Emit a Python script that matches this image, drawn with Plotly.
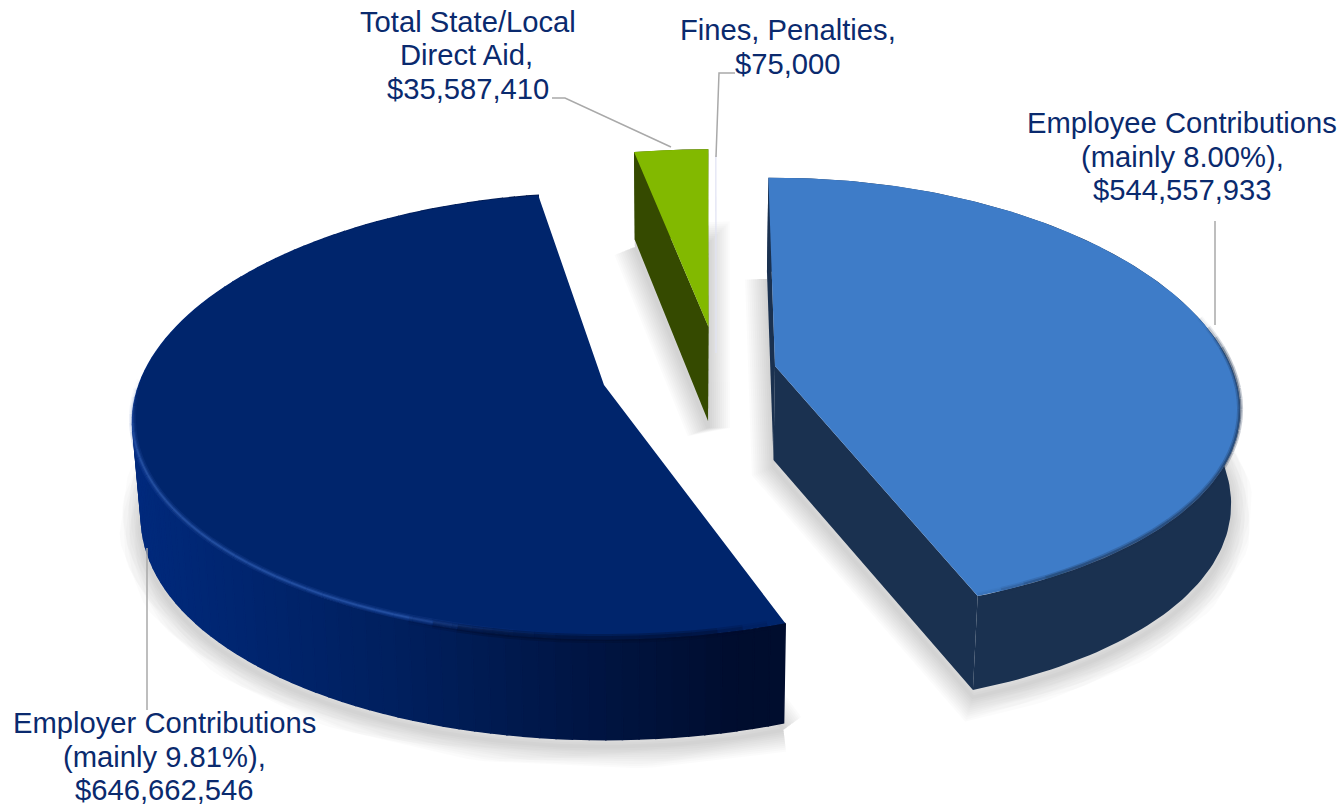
import numpy as np
import plotly.graph_objects as go

# ---------- data ----------
categories = ["Employee Contributions", "Employer Contributions",
              "Total State/Local Direct Aid", "Fines, Penalties"]
values = [544557933, 646662546, 35587410, 75000]
label_lines = [["Employee Contributions", "(mainly 8.00%),", "$544,557,933"],
               ["Employer Contributions", "(mainly 9.81%),", "$646,662,546"],
               ["Total State/Local", "Direct Aid,", "$35,587,410"],
               ["Fines, Penalties,", "$75,000"]]

# ---------- styling / layout ----------
W, H = 1342, 805
A, B, K = 465.0, 219.0, 0.14       # projection of the pie disc
DEPTH = 94.0                       # thickness
dk = [0.0, 0.06, 0.07, 0.07]
SHRINK, SHRINK_CX = 0.016, 680.0   # lower face converges toward this x
apex = [(775, 366), (604, 385), (708.5, 327), (716, 353)]   # exploded apex of each slice
scale = [0.98, 1.0, 0.925, 1.03]
rot = [-1.0, 1.0, 0.0, 0.0]
kx = [0.2, 0.165, 0.05, 0.14]
top_col = ["#3e7cc8", "#00256c", "#82b900", "#dfe2f4"]
side_col = ["#1a3150", None, "#354a00", "#dfe2f4"]
text_col = "#0a2a6e"
leader_col = "#a9a9a9"
label_pos = [[(1182, 123), (1182, 157), (1182, 190)],
             [(164, 723), (164, 757), (164, 790)],
             [(468, 22), (466, 55), (468, 89)],
             [(788, 30), (788, 64)]]
leaders = ["M1215,221 L1215,325", "M147,548 L147,710",
           "M552,98 L565,98 L671,147", "M735,73 L719,73 L716,157"]

fractions = np.array(values, float) / np.sum(values)
edges = np.concatenate([[0], np.cumsum(fractions) * 360])


def top_pt(i, deg):
    t = np.radians(deg + rot[i])
    u, v = np.sin(t), np.cos(t)
    return (apex[i][0] + scale[i] * A * u / (1 + kx[i] * v),
            apex[i][1] - scale[i] * B * v / (1 + K * v))


def bot_pt(i, deg):
    x, y = top_pt(i, deg)
    v = np.cos(np.radians(deg + rot[i]))
    return x + SHRINK * (SHRINK_CX - x), y + DEPTH / (1 + dk[i] * v)


def apex_bot(i):
    x, y = apex[i]
    return x + SHRINK * (SHRINK_CX - x), y + DEPTH


def poly(xs, ys, fill, line=None, lw=0):
    return go.Scatter(x=list(xs) + [xs[0]], y=list(ys) + [ys[0]], mode="lines", fill="toself",
                      fillcolor=fill, line=dict(color=line or fill, width=lw),
                      hoverinfo="skip", showlegend=False)


def arc(i, a0, a1, n, f):
    ts = np.linspace(a0, a1, n)
    return zip(*[f(i, t) for t in ts])


def lerp(c0, c1, f):
    f = min(max(f, 0), 1)
    return "rgb(%d,%d,%d)" % tuple(c0[j] + (c1[j] - c0[j]) * f for j in range(3))


def faded_arc(fig, i, a0, a1, rgb, peak, widths, dy=0.0, pieces=40, fade=0.2):
    """Bevel along the rim: short overlapping arcs whose alpha fades at both ends."""
    ts = np.linspace(a0, a1, pieces + 1)
    for n in range(pieces):
        f = (n + 0.5) / pieces
        env = min(1.0, min(f, 1 - f) / fade)
        x, y = arc(i, ts[n], ts[n + 1], 6, top_pt)
        for w, al in widths:
            fig.add_trace(go.Scatter(x=list(x), y=[v + dy for v in y], mode="lines",
                                     line=dict(color="rgba(%d,%d,%d,%.3f)" % (*rgb, peak * al * env), width=w),
                                     hoverinfo="skip", showlegend=False))


fig = go.Figure()

# soft shadows beneath the three slices with area (strokes only, so they fade outward)
for i in range(3):
    a0, a1 = edges[i], edges[i + 1]
    bx, by = arc(i, a0, a1, 120, bot_pt)
    ax_, ay_ = apex_bot(i)
    xs = list(bx) + [ax_, bx[0]]
    ys = [y + 7 for y in list(by) + [ay_, by[0]]]
    for w in range(44, 0, -4):
        fig.add_trace(go.Scatter(x=xs, y=ys, mode="lines",
                                 line=dict(color="rgba(0,0,0,0.014)", width=w),
                                 hoverinfo="skip", showlegend=False))

# side walls and top faces
for i in range(4):
    a0, a1 = edges[i], edges[i + 1]
    if i == 3:
        tx, ty = top_pt(i, a0)
        fig.add_trace(go.Scatter(x=[tx, apex[i][0]], y=[ty, apex[i][1]], mode="lines",
                                 line=dict(color=top_col[i], width=1.2),
                                 hoverinfo="skip", showlegend=False))
        continue
    ab = apex_bot(i)
    if i == 1:
        # rim shaded from bright (left) to almost black (right)
        ts = np.linspace(a0, a1, 110)
        for t0, t1 in zip(ts[:-1], ts[1:]):
            p = [top_pt(i, t0), top_pt(i, t1), bot_pt(i, t1), bot_pt(i, t0)]
            xm = p[0][0]
            if xm < 420:
                c = lerp((0, 42, 125), (0, 31, 92), (xm - 130) / 290)
            else:
                c = lerp((0, 31, 92), (0, 13, 46), (xm - 420) / 330)
            fig.add_trace(poly([q[0] for q in p], [q[1] for q in p], c, c, 1.5))
    else:
        tx, ty = arc(i, a0, a1, 150, top_pt)
        bx, by = arc(i, a0, a1, 150, bot_pt)
        fig.add_trace(poly(list(tx) + list(bx)[::-1], list(ty) + list(by)[::-1], side_col[i]))
        for e in (a0, a1):
            p, q = top_pt(i, e), bot_pt(i, e)
            fig.add_trace(poly([apex[i][0], p[0], q[0], ab[0]], [apex[i][1], p[1], q[1], ab[1]],
                               side_col[i]))
    tx, ty = arc(i, a0, a1, 200, top_pt)
    fig.add_trace(poly(list(tx) + [apex[i][0]], list(ty) + [apex[i][1]], top_col[i]))

# bevel along the rim of the two big slices
faded_arc(fig, 1, edges[1] + 22, edges[2] - 80, (45, 90, 175), 1.0,
          [(7, 0.18), (4, 0.3), (1.8, 0.6)], dy=-3)
faded_arc(fig, 1, edges[1] + 2, edges[1] + 40, (0, 13, 46), 1.0,
          [(9, 0.35), (5, 0.45)], dy=-1, pieces=14)
faded_arc(fig, 0, 78, edges[1], (26, 49, 80), 1.0,
          [(6, 0.25), (3, 0.45)], dy=-1, pieces=30, fade=0.12)

shapes = [dict(type="path", path=p, xref="x", yref="y", line=dict(color=leader_col, width=1.5))
          for p in leaders]
annotations = []
for lines, pos in zip(label_lines, label_pos):
    for text, (x, y) in zip(lines, pos):
        annotations.append(dict(x=x, y=y, xref="x", yref="y", text=text, showarrow=False,
                                xanchor="center", yanchor="middle",
                                font=dict(family="Liberation Sans", size=29.2, color=text_col)))

fig.update_layout(width=W, height=H, margin=dict(l=0, r=0, t=0, b=0),
                  paper_bgcolor="white", plot_bgcolor="white", showlegend=False,
                  shapes=shapes, annotations=annotations,
                  xaxis=dict(range=[0, W], visible=False, fixedrange=True),
                  yaxis=dict(range=[H, 0], visible=False, fixedrange=True))
fig.write_html("out.html", config=dict(displayModeBar=False),
               post_script="document.body.style.margin='0';")
